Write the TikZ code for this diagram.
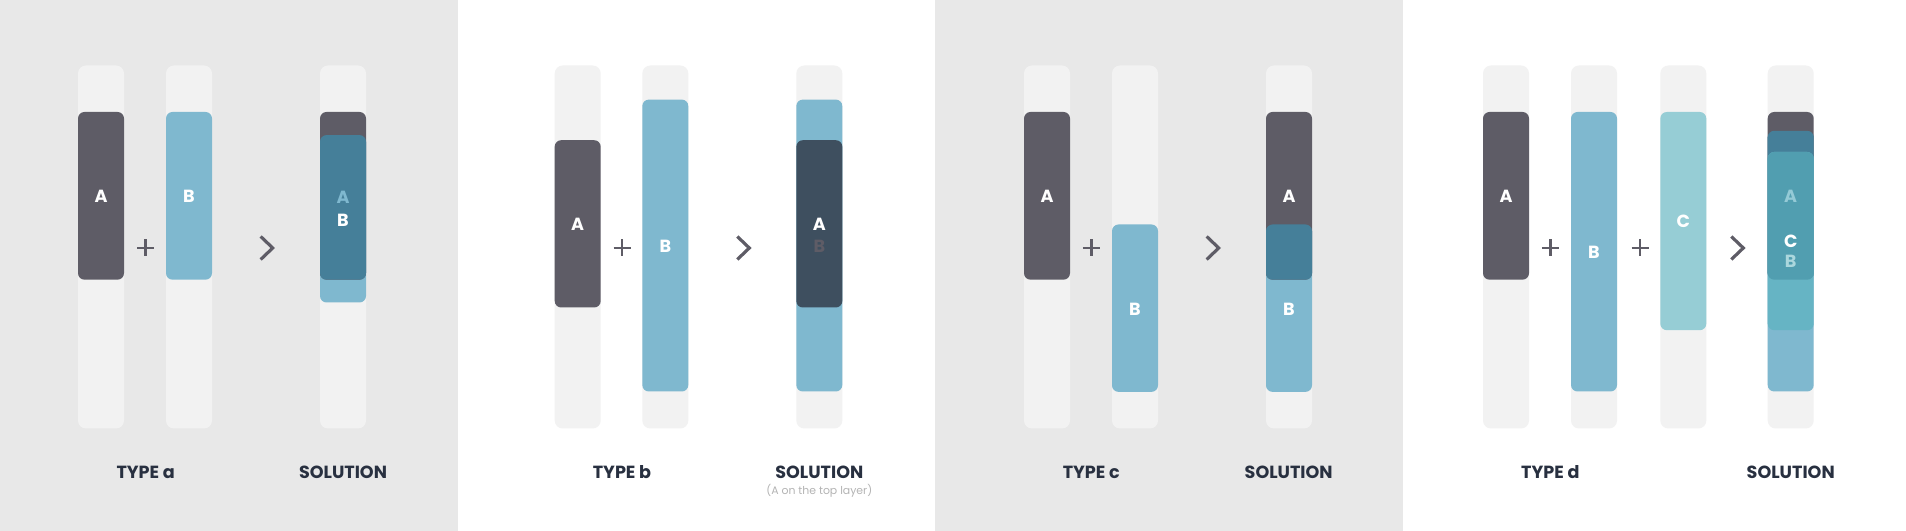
\documentclass[tikz,border=0pt]{standalone}
\usepackage{fontspec}
\setmainfont{Poppins}
\definecolor{panelgray}{HTML}{E8E8E8}
\definecolor{trackgray}{HTML}{F2F2F2}
\definecolor{barA}{HTML}{5E5C66}
\definecolor{barB}{HTML}{7FB8CF}
\definecolor{barC}{HTML}{96CDD5}
\definecolor{mixAB}{HTML}{457F99}
\definecolor{topA}{HTML}{3E4F5F}
\definecolor{mixC}{HTML}{66B4C4}
\definecolor{mixABC}{HTML}{519EB0}
\definecolor{titlecol}{HTML}{283040}
\definecolor{notecol}{HTML}{B4B4B4}
\begin{document}
\begin{tikzpicture}[x=0.2mm, y=-0.2mm,
	track/.style={fill=trackgray, rounded corners=1.6mm},
	bar/.style={rounded corners=1.3mm},
	letter/.style={font=\fontsize{10}{11}\selectfont\bfseries, text=white, inner sep=0pt},
	title/.style={font=\fontsize{10}{11}\selectfont\bfseries, text=titlecol},
	sign/.style={barA, line width=1.5pt}]
	\useasboundingbox (0,0) rectangle (1906,531);
	% panels
	\fill[panelgray] (0,0) rectangle (458,531);
	\fill[white] (458,0) rectangle (935,531);
	\fill[panelgray] (935,0) rectangle (1403,531);
	\fill[white] (1403,0) rectangle (1906,531);
	% empty tracks
	\foreach \x in {78,166,320,554.7,642.3,796.3,1024,1112,1266,1483,1571,1660.3,1767.7}{
	\fill[track] (\x,65.5) rectangle ++(46,363);
	}
	% plus signs
	\foreach \x in {145.7,622,1091.3,1550.3,1640}{
	\draw[sign] (\x-8.5,248) -- (\x+8.5,248) (\x,239.5) -- (\x,256.5);
	}
	% chevrons
	\foreach \x in {266.7,743.3,1212.7,1737.3}{
	\draw[sign, line width=1.8pt] (\x-6,236.5) -- (\x+6,248) -- (\x-6,259.5);
	}
	% type a
	\fill[barA, bar] (78,112) rectangle ++(46,167.7);
	\fill[barB, bar] (166,112) rectangle ++(46,167.7);
	\fill[barB, bar] (320,135.1) rectangle ++(46,167.4);
	\fill[barA, bar] (320,112) rectangle ++(46,167.7);
	\fill[mixAB, bar] (320,135.1) rectangle (366,279.7);
	\node[letter] (aA) at (101,196.4) {A};
	\node[letter] (aB) at (189,196.4) {B};
	\node[letter, text=barB] (aSolA) at (343,197) {A};
	\node[letter] (aSolB) at (343,220) {B};
	\node[title] (aType) at (145.7,472.5) {TYPE a};
	\node[title] (aSol) at (343,472.5) {SOLUTION};
	% type b
	\fill[barA, bar] (554.7,140.2) rectangle ++(46,167.3);
	\fill[barB, bar] (642.3,99.6) rectangle ++(46,291.9);
	\fill[barB, bar] (796.3,99.6) rectangle ++(46,291.9);
	\fill[topA, bar] (796.3,140.2) rectangle ++(46,167.3);
	\node[letter] (bA) at (577.7,224.5) {A};
	\node[letter] (bB) at (665.3,246.6) {B};
	\node[letter] (bSolA) at (819.3,224.5) {A};
	\node[letter, text=barA] (bSolB) at (819.3,246.6) {B};
	\node[title] (bType) at (622,472.5) {TYPE b};
	\node[title] (bSol) at (819.3,472.5) {SOLUTION};
	\node[font=\fontsize{6.2}{7}\selectfont, text=notecol, inner sep=0pt] (bNote) at (819.3,491) {(A on the top layer)};
	% type c
	\fill[barA, bar] (1024,112) rectangle ++(46,167.7);
	\fill[barB, bar] (1112,224.5) rectangle ++(46,167.4);
	\fill[barB, bar] (1266,224.5) rectangle ++(46,167.4);
	\fill[barA, bar] (1266,112) rectangle ++(46,167.7);
	\fill[mixAB, bar] (1266,224.5) rectangle (1312,279.7);
	\node[letter] (cA) at (1047,196.4) {A};
	\node[letter] (cB) at (1135,308.9) {B};
	\node[letter] (cSolA) at (1289,196.4) {A};
	\node[letter] (cSolB) at (1289,308.9) {B};
	\node[title] (cType) at (1091.3,472.5) {TYPE c};
	\node[title] (cSol) at (1288.7,472.5) {SOLUTION};
	% type d
	\fill[barA, bar] (1483,112) rectangle ++(46,167.7);
	\fill[barB, bar] (1571,112) rectangle ++(46,279.5);
	\fill[barC, bar] (1660.3,112) rectangle ++(46,218.2);
	\fill[barB, bar] (1767.7,130.8) rectangle ++(46,260.7);
	\fill[barA, bar] (1767.7,112) rectangle ++(46,167.7);
	\fill[mixAB, bar] (1767.7,130.8) rectangle (1813.7,279.7);
	\fill[mixC, bar] (1767.7,152) rectangle (1813.7,330.2);
	\fill[mixABC, bar] (1767.7,152) rectangle (1813.7,279.7);
	\node[letter] (dA) at (1506,196.4) {A};
	\node[letter] (dB) at (1594,252.3) {B};
	\node[letter] (dC) at (1683.3,221.8) {C};
	\node[letter, text=mixC!70!white] (dSolA) at (1790.7,196.7) {A};
	\node[letter] (dSolC) at (1790.7,241.7) {C};
	\node[letter, text=barC!80!white] (dSolB) at (1790.7,261) {B};
	\node[title] (dType) at (1550.3,472.5) {TYPE d};
	\node[title] (dSol) at (1790.7,472.5) {SOLUTION};
\end{tikzpicture}
\end{document}
